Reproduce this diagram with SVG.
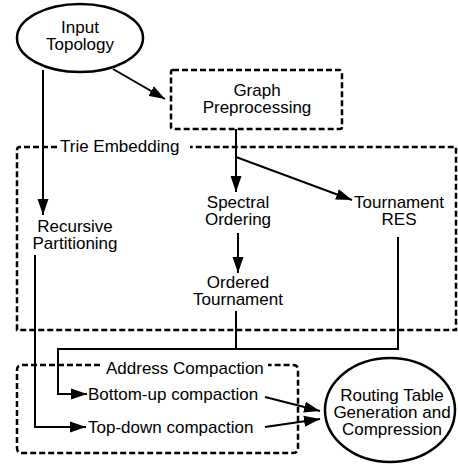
<svg xmlns="http://www.w3.org/2000/svg" width="458" height="466" viewBox="0 0 458 466">
<style>
text{font-family:"Liberation Sans",Arial,sans-serif;font-size:17px;fill:#000}
.c{text-anchor:middle}
.dash{fill:none;stroke:#000;stroke-width:2.5;stroke-dasharray:6 3}
.ln{fill:none;stroke:#000;stroke-width:2}
.el{fill:#fff;stroke:#000;stroke-width:2.5}
</style>
<defs>
<marker id="ah" markerUnits="userSpaceOnUse" markerWidth="17" markerHeight="12" refX="16" refY="6" orient="auto">
<path d="M0,0.5 L16,6 L0,11.5 z" fill="#000"/>
</marker>
</defs>
<g id="trie-embedding">
<path class="dash" d="M57,147 L20,147 Q17,147 17,150 L17,330 L456,330 L456,147 L190,147"/>
<text x="60" y="152">Trie Embedding</text>
</g>
<g id="address-compaction">
<path class="dash" d="M100,365 L22,365 Q17,365 17,370 L17,448 Q17,453 22,453 L293,453 Q298,453 298,448 L298,370 Q298,365 293,365 L268,365"/>
<text x="106" y="374">Address Compaction</text>
</g>
<g id="connectors">
<path class="ln" d="M113,69 L165,99" marker-end="url(#ah)"/>
<path class="ln" d="M43,70 L43,215" marker-end="url(#ah)"/>
<path class="ln" d="M236,129 L236,192" marker-end="url(#ah)"/>
<path class="ln" d="M236,157 L352,200" marker-end="url(#ah)"/>
<path class="ln" d="M238,233 L238,273" marker-end="url(#ah)"/>
<path class="ln" d="M236,311 L236,349"/>
<path class="ln" d="M398,237 L398,349 L58,349 L58,394 L87,394" marker-end="url(#ah)"/>
<path class="ln" d="M35,255 L35,427 L86,427" marker-end="url(#ah)"/>
<path class="ln" d="M265,397 L320,411" marker-end="url(#ah)"/>
<path class="ln" d="M265,427 L320,419" marker-end="url(#ah)"/>
</g>
<g id="input-topology">
<ellipse class="el" cx="80" cy="38" rx="63" ry="34"/>
<text class="c" x="80" y="33">Input</text>
<text class="c" x="80" y="50">Topology</text>
</g>
<g id="graph-preprocessing">
<rect class="dash" x="171" y="70" width="171" height="59" rx="2"/>
<text class="c" x="257" y="96">Graph</text>
<text class="c" x="257" y="113">Preprocessing</text>
</g>
<g id="recursive-partitioning">
<text class="c" x="75" y="232">Recursive</text>
<text class="c" x="75" y="249">Partitioning</text>
</g>
<g id="spectral-ordering">
<text class="c" x="238" y="208">Spectral</text>
<text class="c" x="238" y="225">Ordering</text>
</g>
<g id="tournament-res">
<text class="c" x="399" y="208">Tournament</text>
<text class="c" x="399" y="225">RES</text>
</g>
<g id="ordered-tournament">
<text class="c" x="238" y="288">Ordered</text>
<text class="c" x="238" y="305">Tournament</text>
</g>
<g id="bottom-up">
<text x="88" y="400">Bottom-up compaction</text>
</g>
<g id="top-down">
<text x="88" y="433">Top-down compaction</text>
</g>
<g id="routing-table">
<ellipse class="el" cx="390" cy="410" rx="65" ry="52"/>
<text class="c" x="392" y="401">Routing Table</text>
<text class="c" x="392" y="418">Generation and</text>
<text class="c" x="392" y="435">Compression</text>
</g>
</svg>
